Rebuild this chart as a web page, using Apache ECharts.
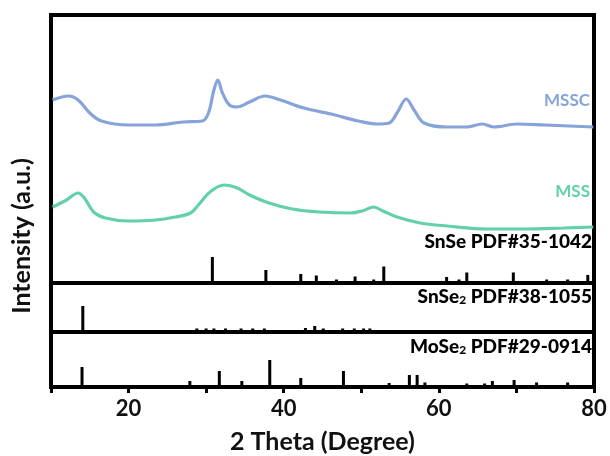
<!DOCTYPE html>
<html>
<head>
<meta charset="utf-8">
<script src="https://cdn.jsdelivr.net/npm/echarts@6/dist/echarts.min.js"></script>
<style>html,body{margin:0;padding:0;background:#fff}#c{width:610px;height:456px}</style>
</head>
<body>
<div id="c"></div>
<script>
// ---- data (2θ in degrees, intensity in a.u.) ----
var msscTheta = [10.2,12.3,13.5,15.0,16.5,20.0,23.5,27.0,29.5,30.3,31.0,31.5,32.1,33.0,34.0,35.6,37.6,39.6,42.6,46.1,49.6,52.1,53.6,54.6,55.8,56.8,58.1,61.1,63.6,65.6,67.1,70.1,73.6,79.9];
var msscInt   = [183,187,183,170,162,158,158,161,162,170,193,203,190,178,176,181,187,183,175,169,162,159,160,170,184,173,160,156,156,159,156,159,158,156];
var mssTheta  = [10.2,12.0,13.5,14.3,15.5,17.0,20.0,23.5,26.0,28.0,29.0,30.5,32.3,34.0,35.6,38.1,41.1,44.6,48.6,50.1,51.6,52.8,54.6,57.6,61.1,66.1,71.1,76.1,79.9];
var mssInt    = [76,83,90,85,71,65,62,63,66,70,78,91,98,95,88,80,74,71,70,72,76,72,66,60,57,54,54,55,56];
var snseTheta = [30.8,37.7,42.2,44.2,46.8,49.2,51.6,52.9,61.0,62.6,63.6,69.6,73.9,76.6,79.2];
var snseInt   = [26,13,9,7.5,3.5,6.5,3.5,16.5,6,3.5,10.5,10.5,3.5,3.5,8];
var snse2Theta = [14.1,28.8,30.0,31.0,32.5,34.5,36.0,37.5,42.8,44.0,45.1,47.6,49.1,50.3,51.1];
var snse2Int   = [26,3.5,3.5,3.5,3.5,3.5,3.5,3.5,4,6,3.5,3.5,3.5,3.5,3.5];
var mose2Theta = [14.0,27.9,31.7,34.6,38.2,42.2,47.7,53.6,56.2,57.2,58.2,63.6,65.9,66.9,69.7,72.6,76.6];
var mose2Int   = [20,6,16,6,27,9,16,4,12,12,4.5,3.5,3.5,6,7,4.5,4.5];
var xTickLabels = [20,40,60,80];
var curveNames = ['MSSC','MSS'];
var refNames = ['SnSe PDF#35-1042','SnSe2 PDF#38-1055','MoSe2 PDF#29-0914'];

function pairs(xs, ys){ return xs.map(function(x,i){ return [x, ys[i]]; }); }

var FONT = 'Lato, "Open Sans", sans-serif';
var L = 51, R = 16;
var grids = [
  {left:L, right:R, top:15, height:268},
  {left:L, right:R, top:283, height:49},
  {left:L, right:R, top:332, height:55}
].map(function(g){ return Object.assign({show:true, borderColor:'#000', borderWidth:4, backgroundColor:'transparent'}, g); });

function xa(i, visible){
  return {
    type:'value', gridIndex:i, min:10, max:80, interval:10,
    axisLine:{show:visible, lineStyle:{color:'#000', width:4}},
    axisTick:{show:visible, length:6, lineStyle:{color:'#000', width:3}},
    axisLabel:{show:visible, margin:11, color:'#111', fontFamily:FONT, fontWeight:'bold', fontSize:22,
      formatter:function(v){ return xTickLabels.indexOf(v) >= 0 ? String(v) : ''; }},
    splitLine:{show:false},
    name: visible ? '2 Theta (Degree)' : '', nameLocation:'middle', nameGap:42,
    nameTextStyle:{color:'#111', fontFamily:FONT, fontWeight:'bold', fontSize:25}
  };
}
function ya(i, max){
  return {type:'value', gridIndex:i, min:0, max:max, show:false, splitLine:{show:false}};
}

function sticks(i, xs, ys){
  return {type:'bar', xAxisIndex:i, yAxisIndex:i, data:pairs(xs, ys), barWidth:3,
    itemStyle:{color:'#000'}, silent:true, animation:false, z:1};
}

function refLabel(base, rest, top){
  var a = {fill:'#000', fontFamily:FONT, fontWeight:900, fontSize:19};
  var s = {fill:'#000', fontFamily:FONT, fontWeight:900, fontSize:12, padding:[7,0,0,0]};
  return {type:'text', right:18, top:top, style:{rich:{a:a, s:s},
    text: rest === null ? '{a|' + base + '}' : '{a|' + base + '}{s|2}{a|' + rest + '}'}};
}

var option = {
  animation:false,
  grid: grids,
  xAxis: [xa(0,false), xa(1,false), xa(2,true)],
  yAxis: [ya(0,268), ya(1,49), ya(2,55)],
  series: [
    {type:'line', name:curveNames[0], xAxisIndex:0, yAxisIndex:0, data:pairs(msscTheta, msscInt),
      smooth:0.35, showSymbol:false, lineStyle:{color:'#86a4d9', width:3.2}, z:3},
    {type:'line', name:curveNames[1], xAxisIndex:0, yAxisIndex:0, data:pairs(mssTheta, mssInt),
      smooth:0.35, showSymbol:false, lineStyle:{color:'#62d0a8', width:3.2}, z:3},
    sticks(0, snseTheta, snseInt),
    sticks(1, snse2Theta, snse2Int),
    sticks(2, mose2Theta, mose2Int)
  ],
  graphic: [
    {type:'text', right:20, top:92, style:{text:curveNames[0], fill:'#86a4d9', fontFamily:FONT, fontSize:17, fontWeight:'bold'}},
    {type:'text', right:20, top:183, style:{text:curveNames[1], fill:'#62d0a8', fontFamily:FONT, fontSize:17, fontWeight:'bold'}},
    refLabel('SnSe PDF#35-1042', null, 232),
    refLabel('SnSe', ' PDF#38-1055', 287),
    refLabel('MoSe', ' PDF#29-0914', 337),
    {type:'text', x:22, y:236, rotation:Math.PI/2, style:{text:'Intensity (a.u.)', fill:'#111',
      fontFamily:FONT, fontWeight:'bold', fontSize:25, align:'center', verticalAlign:'middle'}}
  ]
};
echarts.init(document.getElementById('c'), null, {renderer:'canvas'}).setOption(option);
</script>
</body>
</html>
